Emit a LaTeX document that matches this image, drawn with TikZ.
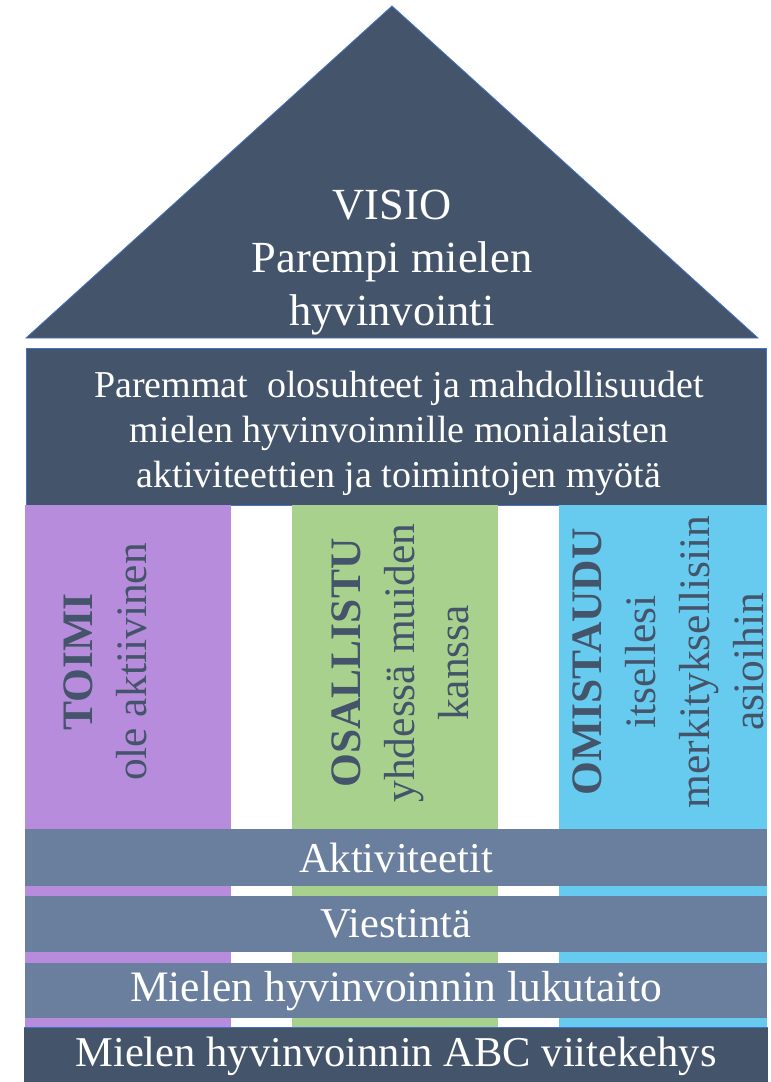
\documentclass[tikz,border=0pt]{standalone}
\usepackage{fontspec}
\setmainfont{Liberation Serif}
\usepackage{tikz}
\usetikzlibrary{positioning}

\definecolor{navy}{HTML}{44546A}
\definecolor{barblue}{HTML}{6A7F9E}
\definecolor{edgeblue}{HTML}{4472C4}
\definecolor{lilac}{HTML}{B88CDC}
\definecolor{sage}{HTML}{A9D18E}
\definecolor{sky}{HTML}{66CBEE}

\begin{document}
\begin{tikzpicture}[x=1pt, y=-1pt,
        whitetext/.style={text=white, inner sep=0pt, align=center},
        pillartext/.style={text=navy, rotate=90, inner sep=0pt, align=center,
            font=\fontsize{43.5}{54}\selectfont}]
        \def\houseL{25}
        \def\houseR{767}
        \def\pillarTop{505}
        \def\pillarBot{1027}

        \useasboundingbox (0,0) rectangle (771,1082);

        % roof and beam
        \filldraw[fill=navy, draw=edgeblue, line width=0.8pt] (26,338) -- (392,6) -- (758,338) -- cycle;
        \filldraw[fill=navy, draw=edgeblue, line width=0.8pt] (26,348) rectangle (766,505);

        % pillars
        \foreach \xa/\xb/\col in {\houseL/231/lilac, 292/498/sage, 559/\houseR/sky}
            \fill[\col] (\xa,\pillarTop) rectangle (\xb,\pillarBot);

        % bars
        \foreach \ya/\yb in {829/886, 896/952, 963/1018}
            \fill[barblue] (\houseL,\ya) rectangle (\houseR,\yb);
        \fill[navy] (24,1027) rectangle (768,1082);
        \draw[edgeblue, line width=0.8pt] (24,1027) -- (768,1027);

        \node[whitetext, font=\fontsize{44.5}{53}\selectfont] (visio) at (392,263)
            {VISIO\\Parempi mielen\\hyvinvointi};
        \node[whitetext, font=\fontsize{38}{45}\selectfont] (goal) at (399,433)
            {Paremmat\ \ olosuhteet ja mahdollisuudet\\mielen hyvinvoinnille monialaisten\\aktiviteettien ja toimintojen myötä};

        \node[pillartext] (toimi) at (105,662) {\textbf{TOIMI}\\ole aktiivinen};
        \node[pillartext] (osallistu) at (400,663) {\textbf{OSALLISTU}\\yhdessä muiden\\kanssa};
        \node[pillartext] (omistaudu) at (668,662) {\textbf{OMISTAUDU}\\itsellesi\\merkityksellisiin\\asioihin};

        \node[whitetext, font=\fontsize{42.5}{50}\selectfont] (akt) at (396,858) {Aktiviteetit};
        \node[whitetext, font=\fontsize{42.5}{50}\selectfont] (viest) at (396,924) {Viestintä};
        \node[whitetext, font=\fontsize{43.5}{50}\selectfont] (lukut) at (396,991) {Mielen hyvinvoinnin lukutaito};
        \node[whitetext, font=\fontsize{42.5}{50}\selectfont] (abc) at (396,1056) {Mielen hyvinvoinnin ABC viitekehys};
    \end{tikzpicture}
\end{document}
